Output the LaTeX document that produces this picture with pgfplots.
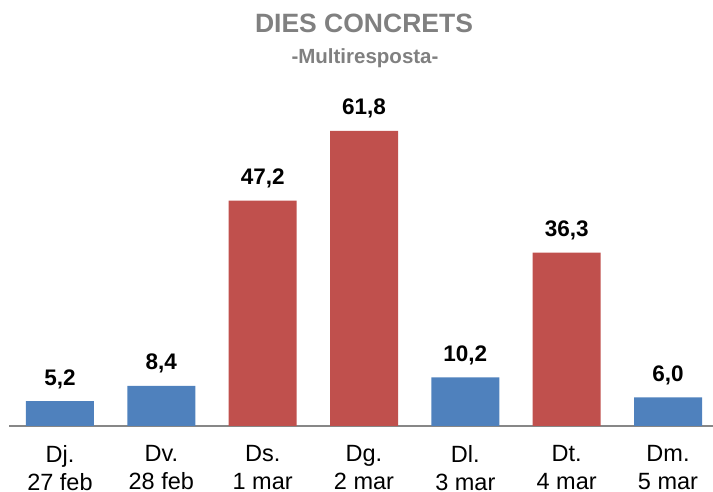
\documentclass[border=0pt]{standalone}
\usepackage{pgfplots}
\pgfplotsset{compat=1.18}
\usepackage{fontspec}
\setmainfont{Liberation Sans}
\definecolor{barblue}{HTML}{4F81BD}
\definecolor{barred}{HTML}{C0504D}
\definecolor{axgray}{HTML}{878787}
\definecolor{titlegray}{HTML}{808080}
\begin{document}
\begin{tikzpicture}[x=1pt,y=1pt]
\useasboundingbox (0,0) rectangle (713,492);
\begin{axis}[
  at={(9.3pt,66pt)}, anchor=south west,
  scale only axis, width=709.4pt, height=295pt,
  xmin=-0.5, xmax=6.5, ymin=0, ymax=61.8,
  ybar, bar width=68pt, bar shift=0pt,
  axis y line=none, axis x line=bottom,
  x axis line style={-, draw=axgray, line width=2pt},
  xtick={0,1,2,3,4,5,6},
  major tick length=0pt,
  xticklabels={{Dj.\\27 feb},{Dv.\\28 feb},{Ds.\\1 mar},{Dg.\\2 mar},{Dl.\\3 mar},{Dt.\\4 mar},{Dm.\\5 mar}},
  xticklabel style={align=center, anchor=north, inner sep=0pt, yshift=-19pt,
    font=\fontsize{23.5}{28.3}\selectfont},
  clip=false,
  /pgf/number format/assume math mode=true,
  /pgf/number format/use comma, /pgf/number format/fixed, /pgf/number format/fixed zerofill,
  /pgf/number format/precision=1,
  nodes near coords,
  every node near coord/.append style={anchor=base, yshift=16pt, inner sep=0pt,
    font=\fontsize{22.5}{27}\selectfont\bfseries, text=black},
]
\addplot[draw=none, fill=barblue] coordinates {(0,5.2) (1,8.4) (4,10.2) (6,6.0)};
\addplot[draw=none, fill=barred] coordinates {(2,47.2) (3,61.8) (5,36.3)};
\end{axis}
\node[anchor=base, inner sep=0pt, text=titlegray, font=\fontsize{26.5}{30}\selectfont\bfseries] at (364,459.3) {DIES CONCRETS};
\node[anchor=base, inner sep=0pt, text=titlegray, font=\fontsize{20.5}{24}\selectfont\bfseries] at (365,428.7) {-Multiresposta-};
\end{tikzpicture}
\end{document}
